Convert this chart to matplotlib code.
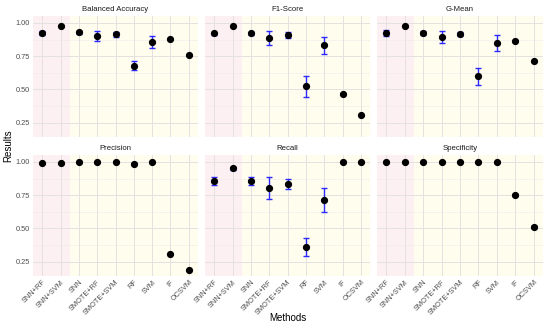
import matplotlib
matplotlib.use("Agg")
import matplotlib.pyplot as plt
import numpy as np

plt.rcParams["font.family"] = ["Liberation Sans", "DejaVu Sans"]

methods = ["SNN+RF", "SNN+SVM", "SNN", "SMOTE+RF", "SMOTE+SVM", "RF", "SVM", "IF", "OCSVM"]
metrics = ["Balanced Accuracy", "F1-Score", "G-Mean", "Precision", "Recall", "Specificity"]

bal_acc = [0.927, 0.980, 0.930, 0.900, 0.914, 0.680, 0.857, 0.876, 0.756]
bal_acc_sd = [0.016, 0, 0.010, 0.038, 0.018, 0.035, 0.045, 0, 0]
f1 = [0.922, 0.977, 0.922, 0.887, 0.909, 0.525, 0.831, 0.464, 0.308]
f1_sd = [0.010, 0, 0.010, 0.050, 0.025, 0.080, 0.065, 0.008, 0]
gmean = [0.925, 0.980, 0.925, 0.894, 0.914, 0.600, 0.849, 0.866, 0.715]
gmean_sd = [0.020, 0, 0.012, 0.044, 0.015, 0.063, 0.057, 0, 0]
precision = [0.993, 0.993, 1.000, 1.000, 0.997, 0.988, 0.997, 0.305, 0.185]
precision_sd = [0, 0, 0, 0, 0, 0.006, 0, 0, 0]
recall = [0.855, 0.953, 0.857, 0.803, 0.835, 0.362, 0.713, 1.000, 1.000]
recall_sd = [0.030, 0.010, 0.030, 0.080, 0.040, 0.070, 0.090, 0, 0]
specificity = [1.000, 1.000, 1.000, 1.000, 1.000, 1.000, 1.000, 0.750, 0.512]
specificity_sd = [0, 0, 0, 0, 0, 0, 0, 0.008, 0.005]

values = [bal_acc, f1, gmean, precision, recall, specificity]
errors = [bal_acc_sd, f1_sd, gmean_sd, precision_sd, recall_sd, specificity_sd]

W, H = 550, 329
fig = plt.figure(figsize=(W / 100, H / 100), dpi=100)

cols = [(33, 198), (205, 370), (377, 543)]
rows = [(16, 137), (155, 276)]

x = np.arange(len(methods))
for i, name in enumerate(metrics):
    r, c = divmod(i, 3)
    x0, x1 = cols[c]
    y0, y1 = rows[r]
    ax = fig.add_axes([x0 / W, 1 - y1 / H, (x1 - x0) / W, (y1 - y0) / H])
    ax.set_xlim(-0.5, 8.5)
    ax.set_ylim(0.143, 1.052)
    ax.axvspan(-0.5, 1.5, color="#fdf0f3", zorder=0, lw=0)
    ax.axvspan(1.5, 8.5, color="#fffdee", zorder=0, lw=0)
    for yv in [0.25, 0.5, 0.75, 1.0]:
        ax.axhline(yv, color="#e6e1e1", lw=0.7, zorder=0.5)
    for yv in [0.375, 0.625, 0.875]:
        ax.axhline(yv, color="#eeeaea", lw=0.4, zorder=0.5)
    for xv in x:
        ax.axvline(xv, color="#e6e1e1", lw=0.7, zorder=0.5)

    v = np.array(values[i])
    e = np.array(errors[i])
    has = e > 0
    ax.errorbar(x[has], v[has], yerr=e[has], fmt="none", ecolor="#2b2bff",
                elinewidth=1.0, capsize=2.2, capthick=1.0, zorder=2)
    ax.plot(x, v, "o", color="black", ms=4.2, zorder=3)

    for s in ax.spines.values():
        s.set_visible(False)
    ax.tick_params(length=0, labelsize=5.3, labelcolor="#4d4d4d", pad=2)
    ax.set_yticks([0.25, 0.5, 0.75, 1.0])
    ax.set_xticks(x)
    if c == 0:
        ax.set_yticklabels(["0.25", "0.50", "0.75", "1.00"])
    else:
        ax.set_yticklabels([])
    if r == 1:
        ax.set_xticklabels(methods, rotation=45, ha="right", va="top",
                           rotation_mode="anchor")
    else:
        ax.set_xticklabels([])
    fig.text((x0 + x1) / 2 / W, 1 - (y0 - 6.5) / H, name, ha="center",
             va="center", fontsize=5.6, color="#1a1a1a")

fig.text(8 / W, 1 - 146 / H, "Results", rotation=90, ha="center", va="center",
         fontsize=7, color="black")
fig.text(288 / W, 1 - 318 / H, "Methods", ha="center", va="center",
         fontsize=7, color="black")

fig.savefig("out.png", dpi=100, facecolor="white")
